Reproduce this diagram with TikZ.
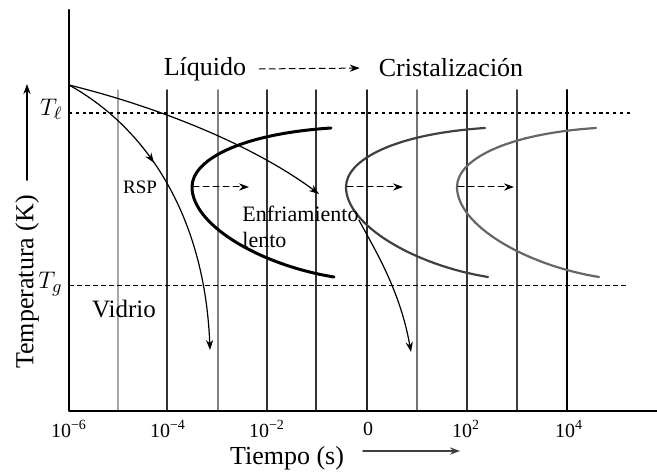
\documentclass[tikz,border=0pt]{standalone}
\usepackage{amsmath,amssymb}
\usepackage{fontspec}
\setmainfont{Liberation Serif}
\usetikzlibrary{arrows.meta,decorations.markings}

\begin{document}
\begin{tikzpicture}[x=0.5pt,y=-0.5pt,>={Stealth[length=5pt,width=3.6pt]}, font=\fontsize{13}{15}\selectfont, line join=round, line cap=round]
	\def\ox{69} \def\oy{411} \def\xmax{657} \def\ytop{90}
	\useasboundingbox (0,0) rectangle (657,474);
	% lineas verticales
	\foreach \x/\c/\w in {118/black!35/0.6pt,167/black!80/0.9pt,218/black!50/0.8pt,267/black!80/0.9pt,316/black!80/0.9pt,367/black!85/0.9pt,417/black!55/0.9pt,467/black!80/0.9pt,517/black!75/0.9pt,567/black/1.1pt}
	{\draw[\c,line width=\w] (\x,\ytop)--(\x,\oy);}
	\draw[line width=1.2pt] (\ox,10)--(\ox,\oy)--(\xmax,\oy);
	% T_l y T_g
	\draw[line width=0.8pt,dash pattern=on 1.6pt off 1.8pt,line cap=butt] (\ox,113)--(630,113);
	\draw[line width=0.5pt,dash pattern=on 2.5pt off 1.5pt,line cap=butt] (\ox,286)--(628,286);
	\node[anchor=east,inner sep=1pt] (tl) at (65,109) {$T_\ell$};
	\node[anchor=east,inner sep=1pt] (tg) at (65,284) {$T_g$};
	% curvas C
	\foreach \dx/\c/\w in {0/black/1.5pt,154/black!75/1.1pt,265/black!60/1.1pt}
	{\draw[\c,line width=\w,shift={(\dx,0)}] (331,128) .. controls (240,134) and (192,160) .. (192,187)
		.. controls (192,225) and (260,265) .. (334,277);
		\draw[densely dashed,line width=0.5pt,->,shift={(\dx,0)}] (193,187)--(249,187);}
	% enfriamientos
	\coordinate (o) at (\ox,85);
	\coordinate (rsp end) at (210,350);
	\coordinate (slow end) at (319,194);
	\coordinate (slow2 end) at (411,352);
	\draw[line width=0.6pt,->,postaction={decorate,decoration={markings,mark=at position 0.37 with {\arrow{>}}}}]
		(o) .. controls (150,130) and (205,220) .. (rsp end);
	\draw[line width=0.6pt,->] (o) .. controls (170,110) and (260,150) .. (slow end);
	\node[font=\fontsize{11}{13}\selectfont,align=left,anchor=north west,inner sep=0pt] (enf) at (242,206) {Enfriamiento\\lento};
	\draw[line width=0.6pt,->] (enf.north east) ++(0,14) .. controls (375,250) and (400,290) .. (slow2 end);
	\node[font=\fontsize{9.5}{11}\selectfont] (rsp) at (140,187) {RSP};
	\node[font=\fontsize{12.5}{14}\selectfont] (vid) at (124,309) {Vidrio};
	% rotulos
	\node (liq) at (205,69) {Líquido};
	\node (cri) at (451,68) {Cristalización};
	\draw[densely dashed,line width=0.5pt,->,shorten <=3pt,shorten >=6pt] (liq.east)--(cri.west);
	\foreach \x/\t in {69/10\textsuperscript{−6},168/10\textsuperscript{−4},267/10\textsuperscript{−2},368/0,466/10\textsuperscript{2},569/10\textsuperscript{4}}
	{\node[font=\fontsize{10}{12}\selectfont] (tick\x) at (\x,429) {\t};}
	\node[rotate=90] (temp) at (27,282) {Temperatura (K)};
	\coordinate (temp end) at (27,84);
	\draw[line width=0.7pt,->,shorten <=4pt] (temp.east)--(temp end);
	\node (tiem) at (287,458) {Tiempo (s)};
	\coordinate (tiem end) at (460,451);
	\draw[line width=0.9pt,black!75,->,shorten <=6pt] (tiem.east |- tiem end)--(tiem end);
\end{tikzpicture}
\end{document}
